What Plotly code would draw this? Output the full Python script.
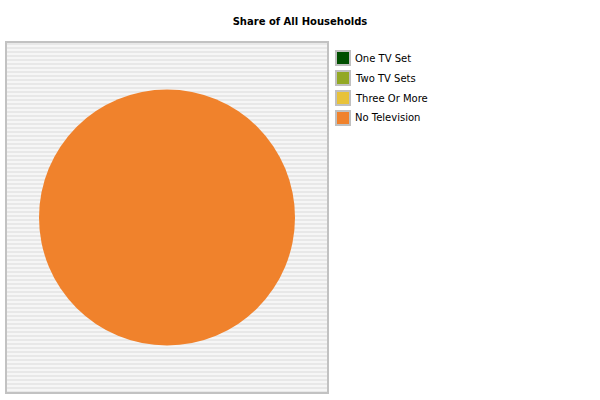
import plotly.graph_objects as go

# pie data (only "No Television" has a share)
labels = ["One TV Set", "Two TV Sets", "Three Or More", "No Television"]
shares = [0, 0, 0, 100]
colors = ["#004f00", "#93a824", "#e8c23a", "#f0822c"]

W, H = 600, 400

fig = go.Figure()

fig.add_trace(go.Pie(
    labels=labels, values=shares, sort=False, direction="clockwise",
    marker=dict(colors=colors, line=dict(width=0)),
    textinfo="none", hoverinfo="label+percent", showlegend=False,
    domain=dict(x=[39 / W, 295 / W], y=[1 - 345.5 / H, 1 - 89.5 / H]),
))

# striped plot background
shapes = [dict(type="rect", xref="paper", yref="paper",
               x0=6 / W, x1=328 / W, y0=1 - 393 / H, y1=1 - 42 / H,
               fillcolor="#f6f6f6", line=dict(width=0), layer="below")]
yy = 43
while yy < 392:
    shapes.append(dict(type="rect", xref="paper", yref="paper",
                       x0=7 / W, x1=327 / W, y0=1 - (yy + 2) / H, y1=1 - yy / H,
                       fillcolor="#e8e8e8", line=dict(width=0), layer="below"))
    yy += 4
shapes.append(dict(type="rect", xref="paper", yref="paper",
                   x0=6 / W, x1=328 / W, y0=1 - 393 / H, y1=1 - 42 / H,
                   line=dict(color="#c2c2c2", width=2), layer="below"))

# legend: grey-framed square swatches + labels
annotations = []
for i, (name, c) in enumerate(zip(labels, colors)):
    cy = 58 + 20 * i
    shapes.append(dict(type="rect", xref="paper", yref="paper",
                       x0=336 / W, x1=350 / W, y0=1 - (cy + 7) / H, y1=1 - (cy - 7) / H,
                       fillcolor=c, line=dict(color="#c0c0c0", width=2)))
    annotations.append(dict(text=name, xref="paper", yref="paper",
                            x=353 / W, y=1 - cy / H, xanchor="left", yanchor="middle",
                            showarrow=False, font=dict(size=10)))

fig.update_layout(
    width=W, height=H,
    margin=dict(l=0, r=0, t=0, b=0),
    paper_bgcolor="white", plot_bgcolor="rgba(0,0,0,0)",
    font=dict(family="DejaVu Sans", size=10, color="#000000"),
    title=dict(text="<b>Share of All Households</b>", x=0.5, xanchor="center",
               y=1 - 21 / H, yanchor="middle", font=dict(size=10)),
    xaxis=dict(visible=False), yaxis=dict(visible=False),
    showlegend=False,
    shapes=shapes,
    annotations=annotations,
)

fig.write_html("out.html", config={"displayModeBar": False},
               post_script="document.body.style.margin='0';")
